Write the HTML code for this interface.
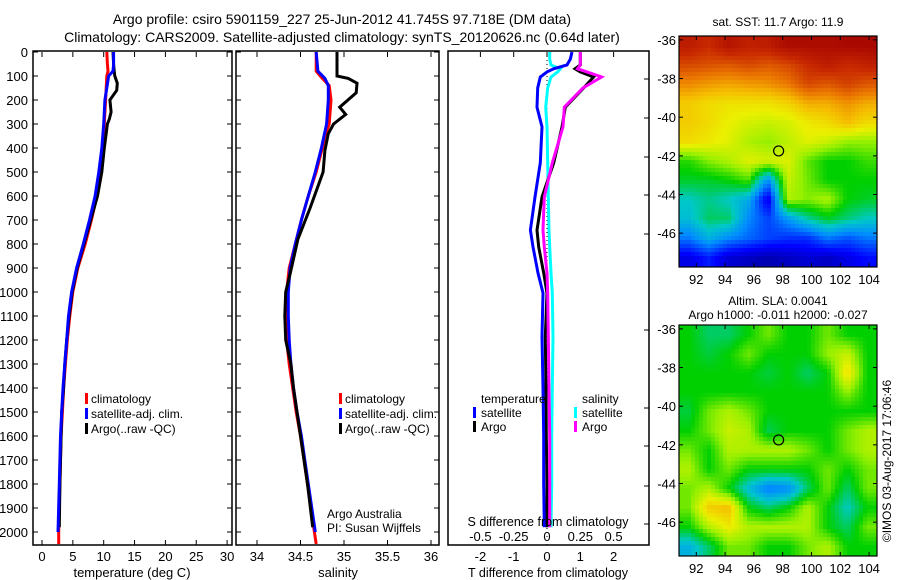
<!DOCTYPE html>
<html><head><meta charset="utf-8">
<style>
html,body{margin:0;padding:0;background:#fff;}
svg{display:block;font-family:"Liberation Sans",sans-serif;}
text{fill:#000;}
</style></head>
<body>
<svg id="fig" width="900" height="580" viewBox="0 0 900 580" xmlns="http://www.w3.org/2000/svg">
<text x="342" y="24" font-size="14" text-anchor="middle">Argo profile: csiro 5901159_227 25-Jun-2012 41.745S 97.718E (DM data)</text>
<text x="342" y="42" font-size="14" text-anchor="middle">Climatology: CARS2009. Satellite-adjusted climatology: synTS_20120626.nc (0.64d later)</text>
<g id="p1"></g>
<g id="p2"></g>
<g id="p3"></g>
<g id="m1"></g>
<g id="m2"></g>
<text x="0" y="0" font-size="12" text-anchor="middle" transform="translate(891,461) rotate(-90)">©IMOS 03-Aug-2017 17:06:46</text>
</svg>
<script>
// ---- data ----
const depthTicks=[0,100,200,300,400,500,600,700,800,900,1000,1100,1200,1300,1400,1500,1600,1700,1800,1900,2000];
const tempTicks=[0,5,10,15,20,25,30];
const salTicks=[34,34.5,35,35.5,36];
const tDiffTicks=[-2,-1,0,1,2];
const sDiffTicks=[-0.5,-0.25,0,0.25,0.5];
const sDiffLabels=["-0.5","-0.25","0","0.25","0.5"];
const tDepth=[0,50,80,100,150,200,250,300,400,500,600,700,800,900,1000,1100,1200,1300,1400,1500,1600,1800,2000,2050];
const tClim=[10.5,10.6,10.7,10.5,10.4,10.3,10.2,10.1,9.8,9.5,8.9,8.0,7.0,5.8,5.0,4.5,4.1,3.8,3.5,3.3,3.1,2.9,2.7,2.7];
const tSat=[11.6,11.6,11.5,10.8,10.5,10.2,10.1,10.0,9.7,9.2,8.6,7.7,6.7,5.6,4.8,4.3,4.0,3.7,3.4,3.2,3.0,2.8,2.6,2.6];
const tArgoDepth=[0,50,80,100,130,160,200,250,280,300,400,500,600,700,800,900,1000,1100,1200,1300,1400,1500,1600,1800,1980];
const tArgo=[11.5,11.6,11.7,11.8,12.2,12.1,11.0,11.2,10.9,10.6,10.1,9.7,9.0,7.9,6.8,5.7,4.9,4.4,4.0,3.7,3.5,3.2,3.1,2.9,2.8];
const sDepth=[0,80,110,140,200,300,350,400,500,600,700,800,900,1000,1100,1200,1300,1400,1500,1600,1700,1800,1900,2000,2050];
const sClim=[34.68,34.68,34.75,34.83,34.85,34.83,34.78,34.75,34.68,34.59,34.51,34.44,34.37,34.34,34.33,34.34,34.37,34.41,34.45,34.50,34.54,34.58,34.62,34.66,34.68];
const sSat=[34.68,34.70,34.78,34.82,34.82,34.80,34.77,34.74,34.67,34.59,34.51,34.44,34.38,34.36,34.36,34.37,34.39,34.42,34.46,34.51,34.55,34.59,34.63,34.67,34.68];
const sArgoDepth=[0,100,110,130,170,230,260,300,340,410,500,650,780,925,1000,1100,1200,1300,1400,1500,1600,1800,1980];
const sArgo=[34.92,34.92,35.05,35.15,35.14,34.95,35.02,34.88,34.82,34.78,34.76,34.61,34.47,34.38,34.33,34.32,34.33,34.39,34.42,34.46,34.50,34.58,34.64];
const dDepth=[0,30,54,70,83,104,150,230,312,462,604,742,812,921,1004,1187,1400,1600,1800,1980];
const dTSat=[0.75,0.7,0.6,0.2,0,-0.2,-0.28,-0.3,-0.15,-0.2,-0.36,-0.5,-0.42,-0.27,-0.12,-0.15,-0.12,-0.1,-0.1,-0.08];
const dTArgo=[1.0,1.0,1.0,0.84,1.0,1.4,1.1,0.55,0.45,0.2,-0.15,-0.3,-0.25,-0.1,0,-0.05,-0.03,-0.02,0,0];
const dSArgo=[0.25,0.25,0.25,0.23,0.3,0.41,0.27,0.13,0.12,0.04,-0.02,-0.03,-0.02,0,0.005,0.01,0.015,0.02,0.02,0.02];
const dSSat=[0.02,0.02,0.03,0.1,0.08,0.03,0.005,-0.01,0,0.005,0.01,0.015,0.02,0.03,0.04,0.045,0.04,0.035,0.035,0.03];
const latTicks=[-36,-38,-40,-42,-44,-46];
const lonTicks=[92,94,96,98,100,102,104];
const argoLon=97.718, argoLat=-41.745;
const sstGrid=[
[0.93,0.9,0.95,0.92,0.93,0.97,0.97,0.97,0.98,0.98],
[0.86,0.85,0.84,0.86,0.84,0.86,0.9,0.93,0.9,0.92],
[0.78,0.76,0.75,0.76,0.77,0.8,0.86,0.84,0.87,0.84],
[0.7,0.68,0.67,0.67,0.67,0.69,0.74,0.74,0.77,0.74],
[0.7,0.68,0.65,0.63,0.62,0.63,0.66,0.68,0.72,0.68],
[0.68,0.66,0.64,0.6,0.58,0.61,0.64,0.62,0.58,0.58],
[0.52,0.57,0.6,0.64,0.63,0.64,0.55,0.5,0.5,0.53],
[0.48,0.48,0.5,0.54,0.3,0.62,0.56,0.5,0.5,0.5],
[0.4,0.43,0.4,0.35,0.12,0.6,0.57,0.6,0.5,0.48],
[0.38,0.45,0.45,0.3,0.22,0.32,0.42,0.48,0.44,0.4],
[0.28,0.36,0.3,0.26,0.22,0.2,0.2,0.28,0.24,0.28],
[0.12,0.18,0.1,0.08,0.06,0.08,0.1,0.08,0.12,0.16]];
const slaGrid=[
[.5,.45,.45,.5,.56,.5,.5,.56,.5,.5],
[.5,.47,.5,.56,.5,.5,.5,.58,.62,.5],
[.5,.5,.5,.5,.47,.5,.45,.5,.68,.5],
[.5,.5,.5,.5,.5,.5,.5,.5,.58,.5],
[.47,.56,.6,.56,.5,.5,.5,.5,.5,.5],
[.5,.56,.62,.6,.46,.5,.5,.5,.56,.6],
[.56,.5,.6,.6,.6,.6,.56,.5,.56,.6],
[.6,.5,.56,.5,.5,.5,.5,.56,.5,.56],
[.56,.6,.5,.38,.28,.3,.45,.56,.45,.56],
[.56,.7,.72,.5,.45,.5,.6,.5,.4,.5],
[.5,.6,.66,.6,.6,.6,.6,.5,.45,.56],
[.36,.45,.56,.56,.5,.5,.56,.6,.5,.5]];

const NS='http://www.w3.org/2000/svg';
function mk(parent,tag,attrs){const e=document.createElementNS(NS,tag);for(const k in attrs)e.setAttribute(k,attrs[k]);parent.appendChild(e);return e;}
const yD=d=>52+0.24*d;
const PT=52,PB=545;

function frame(g,x0,x1,name){
  const r=mk(g,'rect',{x:x0,y:PT-1,width:x1-x0,height:PB-PT+1,fill:'none',stroke:'#000','stroke-width':1.5});
  
  
}
function depthAxis(g,x0,x1,labels){
  depthTicks.forEach(d=>{
    const y=yD(d);
    mk(g,'line',{x1:x0,y1:y,x2:x0+5,y2:y,stroke:'#000'});
    mk(g,'line',{x1:x1-5,y1:y,x2:x1,y2:y,stroke:'#000'});
    if(labels){const t=mk(g,'text',{x:28,y:y+5,'font-size':13,'text-anchor':'end'});t.textContent=d;
      
      }
  });
}
function xAxis(g,ticks,labels,fx,ly){
  ticks.forEach((v,i)=>{
    const x=fx(v);
    mk(g,'line',{x1:x,y1:PT,x2:x,y2:PT+5,stroke:'#000'});
    mk(g,'line',{x1:x,y1:PB-5,x2:x,y2:PB,stroke:'#000'});
    const t=mk(g,'text',{x:x,y:ly,'font-size':13,'text-anchor':'middle'});t.textContent=labels[i];
    
    
  });
}
function line(g,xs,ds,fx,color,name,w){
  const pts=xs.map((v,i)=>fx(v).toFixed(1)+','+yD(ds[i]).toFixed(1)).join(' ');
  const p=mk(g,'polyline',{points:pts,fill:'none',stroke:color,'stroke-width':w||3,'stroke-linejoin':'miter'});
  
  
}
function txt(g,x,y,s,name,size,anchor){
  const t=mk(g,'text',{x:x,y:y,'font-size':size||13,'text-anchor':anchor||'start'});t.textContent=s;
  
  
  return t;
}
function legendMark(g,x,y,color,name){
  const r=mk(g,'rect',{x:x,y:y-10,width:3,height:11,fill:color});
  
  
}

// Panel 1
const g1=document.getElementById('p1');
const fT=v=>42+6.17*v;
frame(g1,33,232,'temperature-panel');
depthAxis(g1,33,232,true);
xAxis(g1,tempTicks,tempTicks.map(String),fT,561);
line(g1,tClim,tDepth,fT,'#f00','temperature-climatology-line');
line(g1,tArgo,tArgoDepth,fT,'#000','temperature-argo-line');
line(g1,tSat,tDepth.slice(0,23),fT,'#00f','temperature-satellite-line');
txt(g1,132,577,'temperature (deg C)','temperature-axis-title',13,'middle');
[['#f00','climatology'],['#00f','satellite-adj. clim.'],['#000','Argo(..raw -QC)']].forEach((e,i)=>{
  legendMark(g1,85,403+i*15,e[0],'legend-marker');
  txt(g1,91,403+i*15,e[1],'legend-entry',12);
});

// Panel 2
const g2=document.getElementById('p2');
const fS=v=>257+87*(v-34);
frame(g2,236,439,'salinity-panel');
depthAxis(g2,236,439,false);
xAxis(g2,salTicks,salTicks.map(String),fS,561);
line(g2,sClim,sDepth,fS,'#f00','salinity-climatology-line');
line(g2,sSat,sDepth.slice(0,24),fS,'#00f','salinity-satellite-line');
line(g2,sArgo,sArgoDepth,fS,'#000','salinity-argo-line');
txt(g2,338,577,'salinity','salinity-axis-title',13,'middle');
[['#f00','climatology'],['#00f','satellite-adj. clim.'],['#000','Argo(..raw -QC)']].forEach((e,i)=>{
  legendMark(g2,339,403+i*15,e[0],'legend-marker');
  txt(g2,345,403+i*15,e[1],'legend-entry',12);
});
txt(g2,327,518,'Argo Australia','institution-label',12);
txt(g2,327,532,'PI: Susan Wijffels','pi-label',12);

// Panel 3
const g3=document.getElementById('p3');
const fDT=v=>547+33.3*v;
const fDS=v=>547+133.2*v;
frame(g3,448,649,'difference-panel');
[79,118,157,195,234,330,408,446,486,524].forEach(y=>mk(g3,'line',{x1:644,y1:y,x2:649,y2:y,stroke:'#000'}));
tDiffTicks.forEach(v=>{const x=fDT(v);mk(g3,'line',{x1:x,y1:PT,x2:x,y2:PT+5,stroke:'#000'});
  txt(g3,x,561,String(v),'t-diff-tick-label',13,'middle');});
sDiffTicks.forEach((v,i)=>{txt(g3,fDS(v),541,sDiffLabels[i],'s-diff-tick-label',13,'middle');});
mk(g3,'line',{x1:547,y1:PT,x2:547,y2:PB,stroke:'#000','stroke-dasharray':'1,3'});
line(g3,dSSat,dDepth,fDS,'#0ff','s-diff-satellite-line');
line(g3,dTArgo,dDepth,fDT,'#000','t-diff-argo-line');
line(g3,dSArgo,dDepth,fDS,'#f0f','s-diff-argo-line');
line(g3,dTSat,dDepth,fDT,'#00f','t-diff-satellite-line');
txt(g3,481,403,'temperature','diff-legend-temperature-heading',12);
txt(g3,582,403,'salinity','diff-legend-salinity-heading',12);
legendMark(g3,473,417,'#00f','legend-marker');txt(g3,481,417,'satellite','legend-entry',12);
legendMark(g3,473,431,'#000','legend-marker');txt(g3,481,431,'Argo','legend-entry',12);
legendMark(g3,574,417,'#0ff','legend-marker');txt(g3,582,417,'satellite','legend-entry',12);
legendMark(g3,574,431,'#f0f','legend-marker');txt(g3,582,431,'Argo','legend-entry',12);
txt(g3,548,526,'S difference from climatology','s-diff-axis-title',12.5,'middle');
txt(g3,548,577,'T difference from climatology','t-diff-axis-title',12.5,'middle');

// Maps
const cmStops=[[0,[0,0,128]],[0.15,[0,0,255]],[0.3,[0,140,255]],[0.4,[0,200,200]],[0.5,[0,208,0]],[0.58,[150,240,0]],[0.65,[235,240,0]],[0.72,[245,190,0]],[0.8,[235,120,0]],[0.9,[200,40,0]],[1,[160,0,0]]];
function cmap(v){
  v=Math.max(0,Math.min(1,v));
  for(let k=1;k<cmStops.length;k++){
    if(v<=cmStops[k][0]){const a=cmStops[k-1],b=cmStops[k];const t=(v-a[0])/(b[0]-a[0]);
      return 'rgb('+a[1].map((c,i)=>Math.round(c+(b[1][i]-c)*t)).join(',')+')';}
  }
  return 'rgb(160,0,0)';
}
function drawMap(gid,grid,top,title1,title2){
  const g=document.getElementById(gid);
  const x0=679,x1=877,y0=top,y1=top+231;
  const latTop=-35.8,latBot=-47.75,lonL=90.8,lonR=104.55;
  const fx=l=>x0+(l-lonL)/(lonR-lonL)*(x1-x0);
  const fy=l=>y0+(latTop-l)/(latTop-latBot)*(y1-y0);
  const R=grid.length,C=grid[0].length;
  const cw=4,ch=4;
  for(let y=y0;y<y1;y+=ch){for(let x=x0;x<x1;x+=cw){
    const gy=Math.max(0,Math.min(R-1.001,(y+ch/2-y0)/(y1-y0)*R-0.5));
    const gx=Math.max(0,Math.min(C-1.001,(x+cw/2-x0)/(x1-x0)*C-0.5));
    const i=Math.floor(gy),j=Math.floor(gx),fy2=gy-i,fx2=gx-j;
    const v=grid[i][j]*(1-fy2)*(1-fx2)+grid[i+1][j]*fy2*(1-fx2)+grid[i][j+1]*(1-fy2)*fx2+grid[i+1][j+1]*fy2*fx2;
    mk(g,'rect',{x:x,y:y,width:Math.min(cw,x1-x)+0.3,height:Math.min(ch,y1-y)+0.3,fill:cmap(v)});
  }}
  const fr=mk(g,'rect',{x:x0,y:y0,width:x1-x0,height:y1-y0,fill:'none',stroke:'#000','stroke-width':1.2});
  
  
  latTicks.forEach(l=>{const y=fy(l);mk(g,'line',{x1:x0,y1:y,x2:x0+4,y2:y,stroke:'#000'});mk(g,'line',{x1:x1-4,y1:y,x2:x1,y2:y,stroke:'#000'});
    txt(g,x0-3,y+5,String(l),'lat-tick-label',13,'end');});
  lonTicks.forEach(l=>{const x=fx(l);mk(g,'line',{x1:x,y1:y0,x2:x,y2:y0+4,stroke:'#000'});mk(g,'line',{x1:x,y1:y1-4,x2:x,y2:y1,stroke:'#000'});
    txt(g,x,y1+17,String(l),'lon-tick-label',13,'middle');});
  const c=mk(g,'circle',{cx:fx(argoLon),cy:fy(argoLat),r:5,fill:'none',stroke:'#000','stroke-width':1.2});
  
  
  if(title2){txt(g,778,top-20,title1,'map-title',12,'middle');txt(g,778,top-6,title2,'map-subtitle',12,'middle');}
  else txt(g,778,top-10,title1,'map-title',12,'middle');
}
drawMap('m1',sstGrid,36,'sat. SST: 11.7 Argo: 11.9');
drawMap('m2',slaGrid,325,'Altim. SLA: 0.0041','Argo h1000: -0.011 h2000: -0.027');
</script>
</body></html>
